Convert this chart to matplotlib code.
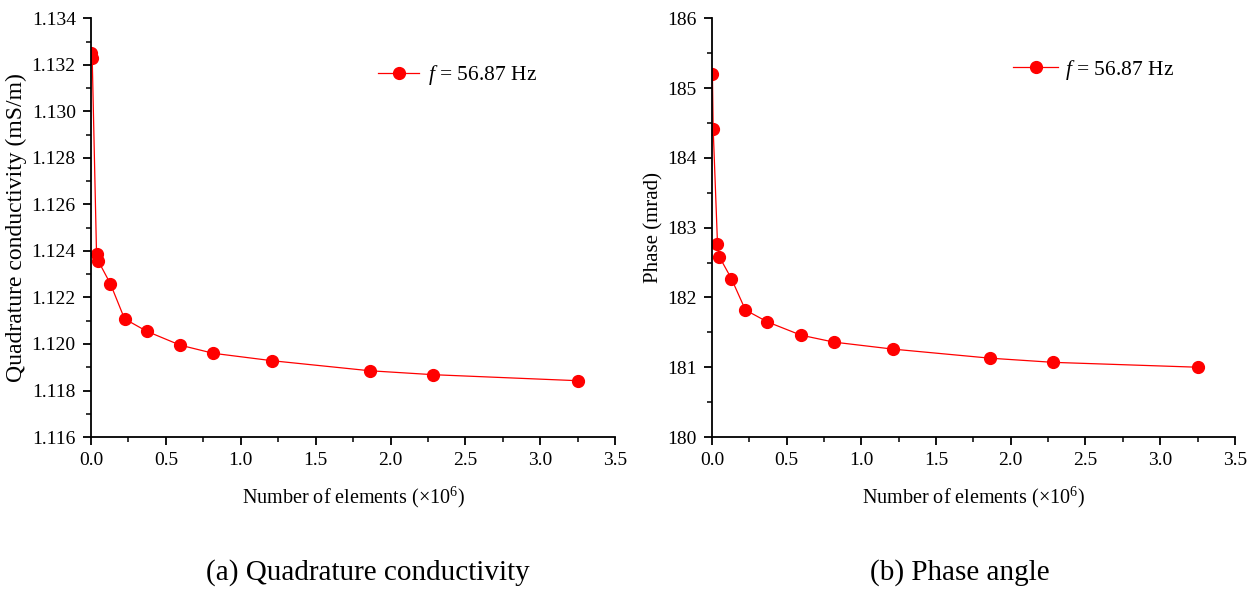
import numpy as np
import matplotlib.pyplot as plt
from matplotlib.ticker import MultipleLocator, FormatStrFormatter

# Fonte tipo Times
plt.rcParams['font.family'] = 'Liberation Serif'
plt.rcParams['mathtext.fontset'] = 'custom'
plt.rcParams['mathtext.rm'] = 'Liberation Serif'
plt.rcParams['mathtext.it'] = 'Liberation Serif:italic'

# Dados
n_elem = [0.003, 0.008, 0.037, 0.050, 0.130, 0.224, 0.371, 0.595, 0.816, 1.210, 1.860, 2.285, 3.255]
sigma_q = [1.13250, 1.13230, 1.12385, 1.12355, 1.12258, 1.12108, 1.12055, 1.11995, 1.11960,
           1.11928, 1.11885, 1.11868, 1.11842]
phase = [185.20, 184.42, 182.77, 182.58, 182.27, 181.82, 181.65, 181.46, 181.36,
         181.26, 181.13, 181.07, 181.00]

legend_label = r"$f$ = 56.87 Hz"

fig = plt.figure(figsize=(12.57, 5.89), dpi=100)
ax1 = fig.add_axes([0.0724, 0.258, 0.417, 0.711])
ax2 = fig.add_axes([0.5664, 0.258, 0.416, 0.711])

for ax, y in [(ax1, sigma_q), (ax2, phase)]:
    ax.plot(n_elem, y, '-o', color='red', lw=0.9, ms=8.5, label=legend_label)
    ax.set_xlim(0, 3.5)
    ax.xaxis.set_major_locator(MultipleLocator(0.5))
    ax.xaxis.set_minor_locator(MultipleLocator(0.25))
    ax.xaxis.set_major_formatter(FormatStrFormatter('%.1f'))
    ax.spines['top'].set_visible(False)
    ax.spines['right'].set_visible(False)
    for s in ['left', 'bottom']:
        ax.spines[s].set_linewidth(1.3)
    ax.tick_params(which='major', direction='out', length=6, width=1.3, labelsize=14, pad=5)
    ax.tick_params(which='minor', direction='out', length=3.5, width=1.1)
    ax.set_xlabel(r"Number of elements ($\times$10$^6$)", fontsize=14.5, labelpad=11)

# Painel (a)
ax1.set_ylim(1.116, 1.134)
ax1.yaxis.set_major_locator(MultipleLocator(0.002))
ax1.yaxis.set_minor_locator(MultipleLocator(0.001))
ax1.yaxis.set_major_formatter(FormatStrFormatter('%.3f'))
ax1.set_ylabel("Quadrature conductivity (mS/m)", fontsize=17, labelpad=3)
ax1.legend(loc='center left', bbox_to_anchor=(0.548, 0.864), frameon=False,
           fontsize=15.5, handlelength=1.9, borderpad=0, borderaxespad=0, handletextpad=0.4)

# Painel (b)
ax2.set_ylim(180, 186)
ax2.yaxis.set_major_locator(MultipleLocator(1))
ax2.yaxis.set_minor_locator(MultipleLocator(0.5))
ax2.set_ylabel("Phase (mrad)", fontsize=15, labelpad=3)
ax2.legend(loc='center left', bbox_to_anchor=(0.576, 0.877), frameon=False,
           fontsize=15.5, handlelength=2.1, borderpad=0, borderaxespad=0, handletextpad=0.3)

# Legendas dos painéis
fig.text(368 / 1257, 1 - 573 / 589, "(a) Quadrature conductivity", ha='center', va='center', fontsize=21)
fig.text(960 / 1257, 1 - 573 / 589, "(b) Phase angle", ha='center', va='center', fontsize=21)

fig.savefig('out.png', dpi=100)
